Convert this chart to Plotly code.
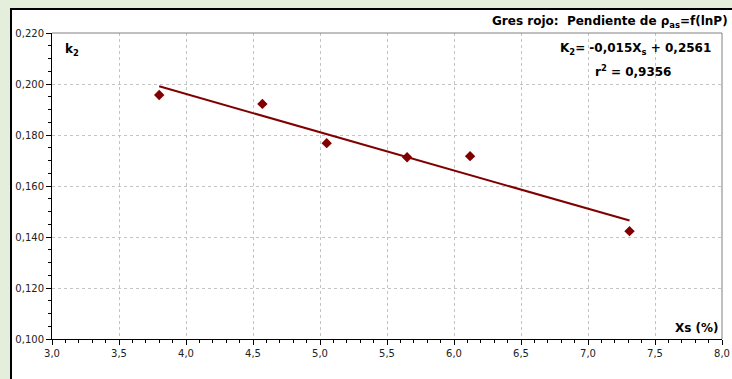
import plotly.graph_objects as go

# Measured data: moisture Xs (%) vs. slope k2
xs = [3.80, 4.57, 5.05, 5.65, 6.12, 7.31]
k2 = [0.1957, 0.1922, 0.1768, 0.1713, 0.1717, 0.1423]

# Linear fit reported on the chart
slope = -0.015
intercept = 0.2561
r2 = 0.9356
fit_x = [min(xs), max(xs)]
fit_y = [slope * x + intercept for x in fit_x]

x_ticks = [3.0, 3.5, 4.0, 4.5, 5.0, 5.5, 6.0, 6.5, 7.0, 7.5, 8.0]
y_ticks = [0.100, 0.120, 0.140, 0.160, 0.180, 0.200, 0.220]

DARK_RED = "#800000"
FONT = "DejaVu Sans, sans-serif"

W, H = 732, 379
L, R, T, B = 52, 10, 33, 40
pw, ph = W - L - R, H - T - B


def px(x):
    return (x - L) / pw


def py(y):
    return (H - B - y) / ph


fig = go.Figure()

fig.add_trace(go.Scatter(
    x=fit_x, y=fit_y, mode="lines",
    line=dict(color=DARK_RED, width=2),
    hoverinfo="skip", showlegend=False,
))
fig.add_trace(go.Scatter(
    x=xs, y=k2, mode="markers",
    marker=dict(symbol="diamond", color=DARK_RED, size=8),
    showlegend=False,
))

green = "#E4EEDA"
shapes = [
    # green surround on top and left
    dict(type="rect", xref="paper", yref="paper", x0=px(0), x1=px(W), y0=py(0), y1=py(8),
         fillcolor=green, line_width=0, layer="below"),
    dict(type="rect", xref="paper", yref="paper", x0=px(0), x1=px(10), y0=py(0), y1=py(H),
         fillcolor=green, line_width=0, layer="below"),
    # dark frame of the chart panel
    dict(type="line", xref="paper", yref="paper", x0=px(10), x1=px(W), y0=py(9), y1=py(9),
         line=dict(color="#000000", width=2)),
    dict(type="line", xref="paper", yref="paper", x0=px(11), x1=px(11), y0=py(8), y1=py(H),
         line=dict(color="#000000", width=2)),
    # thin gray frame on the top and right of the plotting area
    dict(type="line", xref="paper", yref="paper", x0=0, x1=1, y0=1, y1=1,
         line=dict(color="#808080", width=1)),
    dict(type="line", xref="paper", yref="paper", x0=1, x1=1, y0=0, y1=1,
         line=dict(color="#808080", width=1)),
]

sp = "\u00a0"
annotations = [
    dict(text=f"<b>Gres rojo:{sp}{sp}Pendiente de ρ<sub>as</sub>=f(lnP)</b>", xref="paper", yref="paper",
         x=px(730), y=py(22), xanchor="right", yanchor="middle", showarrow=False,
         font=dict(family=FONT, size=12, color="#000000")),
    dict(text="<b>k<sub>2</sub></b>", xref="paper", yref="paper",
         x=px(63), y=py(50), xanchor="left", yanchor="middle", showarrow=False,
         font=dict(family=FONT, size=12, color="#000000")),
    dict(text="<b>K<sub>2</sub>= -0,015X<sub>s</sub> + 0,2561</b>", xref="paper", yref="paper",
         x=px(635), y=py(49), xanchor="center", yanchor="middle", showarrow=False,
         font=dict(family=FONT, size=12, color="#000000")),
    dict(text="<b>r<sup>2</sup> = 0,9356</b>", xref="paper", yref="paper",
         x=px(633), y=py(71), xanchor="center", yanchor="middle", showarrow=False,
         font=dict(family=FONT, size=12, color="#000000")),
    dict(text="<b>Xs (%)</b>", xref="paper", yref="paper",
         x=px(721), y=py(328), xanchor="right", yanchor="middle", showarrow=False,
         font=dict(family=FONT, size=12, color="#000000")),
]

axis_common = dict(
    showgrid=True, gridcolor="#C4C4C4", griddash="dot", gridwidth=1,
    showline=True, linecolor="#000000", linewidth=1, mirror=False,
    ticks="outside", ticklen=5, tickcolor="#000000",
    zeroline=False, fixedrange=True, automargin=False,
)

fig.update_layout(
    width=W, height=H,
    margin=dict(l=L, r=R, t=T, b=B, autoexpand=False),
    paper_bgcolor="#FFFFFF",
    plot_bgcolor="#FFFFFF",
    shapes=shapes,
    annotations=annotations,
    font=dict(family=FONT, size=10, color="#222222"),
    xaxis=dict(
        range=[3.0, 8.0], tickvals=x_ticks,
        ticktext=[f"{v:.1f}".replace(".", ",") for v in x_ticks],
        minor=dict(dtick=0.1, ticks="outside", ticklen=3, tickcolor="#000000", showgrid=False),
        **axis_common,
    ),
    yaxis=dict(
        range=[0.100, 0.220], tickvals=y_ticks,
        ticktext=[f"{v:.3f}".replace(".", ",") for v in y_ticks],
        minor=dict(dtick=0.005, ticks="outside", ticklen=3, tickcolor="#000000", showgrid=False),
        **axis_common,
    ),
)

fig.write_html("out.html")
